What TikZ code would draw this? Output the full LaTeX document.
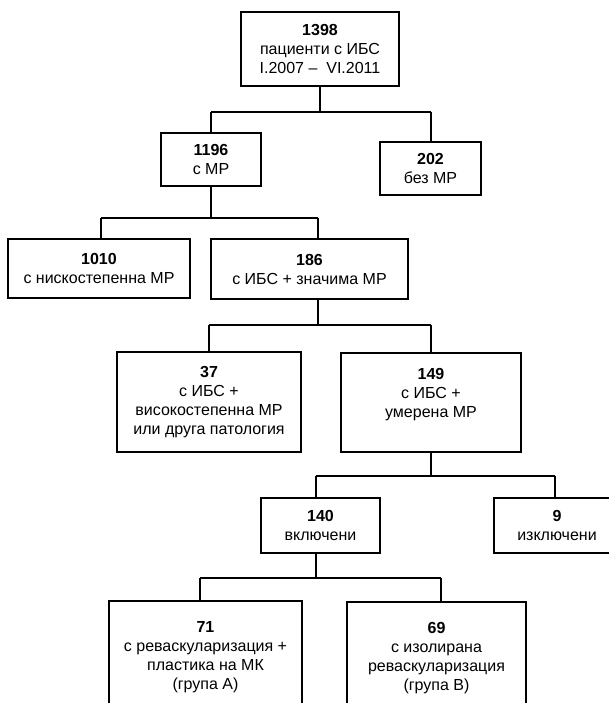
\documentclass[tikz,border=0pt]{standalone}
\usepackage{fontspec}
\setmainfont{Liberation Sans}
\begin{document}
\begin{tikzpicture}[x=1pt,y=-1pt,
  box/.style={draw=black, line width=1.4pt, rectangle, inner sep=0pt,
    align=center, font=\fontsize{16}{19}\selectfont},
  link/.style={draw=black, line width=1.3pt}]
\useasboundingbox (0,0) rectangle (609,703);

% boxes
\node[box, minimum width=158, minimum height=74] (b1398) at (320,49)
  {\textbf{1398}\\пациенти с ИБС\\I.2007 –~ VI.2011};
\node[box, minimum width=100, minimum height=53] (b1196) at (211,159.5)
  {\textbf{1196}\\с МР};
\node[box, minimum width=101, minimum height=53] (b202) at (430.5,168.5)
  {\textbf{202}\\без МР};
\node[box, minimum width=182, minimum height=59] (b1010) at (99,268.5)
  {\textbf{1010}\\с нискостепенна МР};
\node[box, minimum width=197, minimum height=60] (b186) at (309.5,269)
  {\textbf{186}\\с ИБС + значима МР};
\node[box, minimum width=184, minimum height=100] (b37) at (209,402)
  {\textbf{37}\\с ИБС +\\високостепенна МР\\или друга патология};
\node[box, minimum width=180, minimum height=99] (b149) at (431,402.5)
  {\textbf{149}\\с ИБС +\\умерена МР\\\mbox{}};
\node[box, minimum width=119, minimum height=55] (b140) at (320.5,525.5)
  {\textbf{140}\\включени};
\node[box, minimum width=126, minimum height=55] (b9) at (557,525.5)
  {\textbf{9}\\изключени};
\node[box, minimum width=193, minimum height=113] (b71) at (205.5,657.5)
  {\textbf{71}\\с реваскуларизация +\\пластика на МК\\(група А)};
\node[box, minimum width=179, minimum height=113] (b69) at (436.5,658.5)
  {\textbf{69}\\с изолирана\\реваскуларизация\\(група В)};

% junctions
\coordinate (j1) at (320,112);
\coordinate (c1196) at (211,112);
\coordinate (c202) at (431,112);
\coordinate (j2) at (211,218);
\coordinate (c1010) at (101,218);
\coordinate (c186) at (318,218);
\coordinate (j3) at (318,325);
\coordinate (c37) at (209,325);
\coordinate (c149) at (431,325);
\coordinate (j4) at (431,476);
\coordinate (c140) at (316,476);
\coordinate (c9) at (555,476);
\coordinate (j5) at (316,578);
\coordinate (c71) at (200,578);
\coordinate (c69) at (441,578);

% connectors
\draw[link] (b1398.south -| j1) -- (j1);
\draw[link] (c1196) -- (c202);
\draw[link] (c1196) -- (b1196.north -| c1196);
\draw[link] (c202) -- (b202.north -| c202);

\draw[link] (b1196.south -| j2) -- (j2);
\draw[link] (c1010) -- (c186);
\draw[link] (c1010) -- (b1010.north -| c1010);
\draw[link] (c186) -- (b186.north -| c186);

\draw[link] (b186.south -| j3) -- (j3);
\draw[link] (c37) -- (c149);
\draw[link] (c37) -- (b37.north -| c37);
\draw[link] (c149) -- (b149.north -| c149);

\draw[link] (b149.south -| j4) -- (j4);
\draw[link] (c140) -- (c9);
\draw[link] (c140) -- (b140.north -| c140);
\draw[link] (c9) -- (b9.north -| c9);

\draw[link] (b140.south -| j5) -- (j5);
\draw[link] (c71) -- (c69);
\draw[link] (c71) -- (b71.north -| c71);
\draw[link] (c69) -- (b69.north -| c69);
\end{tikzpicture}
\end{document}
